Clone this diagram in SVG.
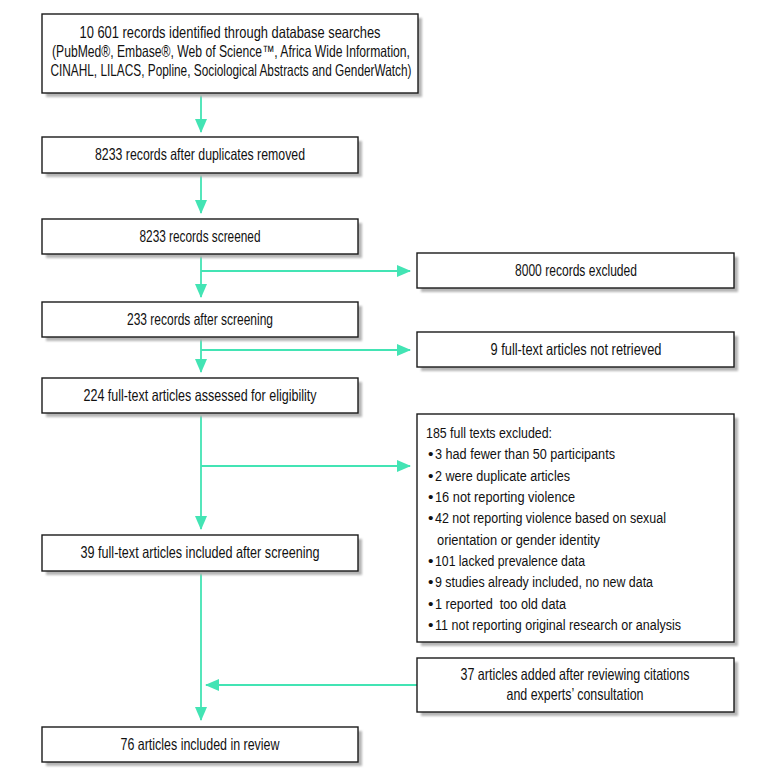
<svg xmlns="http://www.w3.org/2000/svg" width="771" height="778" viewBox="0 0 771 778">
<style>
.bx{fill:#fff;stroke:#1a1a1a;stroke-width:1.4}
.sh{fill:#b5b5b5}
text{font-family:"Liberation Sans Narrow","Liberation Sans",Arial,sans-serif;font-size:16.5px;fill:#111}
.c{text-anchor:middle}
.li{font-size:15.5px}
.pre{white-space:pre}
.cn{fill:none;stroke:#43e4b4;stroke-width:1.8}
</style>
<defs>
<filter id="bl" x="-5%" y="-5%" width="110%" height="120%"><feGaussianBlur stdDeviation="1"/></filter>
<marker id="ah" viewBox="0 0 14 12" refX="13" refY="6" markerWidth="14" markerHeight="12" markerUnits="userSpaceOnUse" orient="auto"><path d="M0,0 L14,6 L0,12 z" fill="#43e4b4"/></marker>
</defs>
<g id="connectors">
<path class="cn" d="M201,93 V132" marker-end="url(#ah)"/>
<path class="cn" d="M201,173 V213" marker-end="url(#ah)"/>
<path class="cn" d="M201,254 V297" marker-end="url(#ah)"/>
<path class="cn" d="M201,271 H410" marker-end="url(#ah)"/>
<path class="cn" d="M201,337 V372" marker-end="url(#ah)"/>
<path class="cn" d="M201,350 H410" marker-end="url(#ah)"/>
<path class="cn" d="M201,413 V529" marker-end="url(#ah)"/>
<path class="cn" d="M201,466 H410" marker-end="url(#ah)"/>
<path class="cn" d="M201,571 V720" marker-end="url(#ah)"/>
<path class="cn" d="M417,685 H206" marker-end="url(#ah)"/>
</g>
<g id="n1">
<rect class="sh" filter="url(#bl)" x="46" y="18" width="376" height="79"/>
<rect class="bx" x="42" y="14" width="376" height="79"/>
<text class="c" x="230" y="38" textLength="301" lengthAdjust="spacingAndGlyphs">10 601 records identified through database searches</text>
<text class="c" x="231" y="57" textLength="358" lengthAdjust="spacingAndGlyphs">(PubMed®, Embase®, Web of Science™, Africa Wide Information,</text>
<text class="c" x="231" y="76" textLength="361" lengthAdjust="spacingAndGlyphs">CINAHL, LILACS, Popline, Sociological Abstracts and GenderWatch)</text>
</g>
<g id="n2">
<rect class="sh" filter="url(#bl)" x="46" y="141" width="316" height="36"/>
<rect class="bx" x="42" y="137" width="316" height="36"/>
<text class="c" x="200" y="160" textLength="210" lengthAdjust="spacingAndGlyphs">8233 records after duplicates removed</text>
</g>
<g id="n3">
<rect class="sh" filter="url(#bl)" x="46" y="223" width="316" height="35"/>
<rect class="bx" x="42" y="219" width="316" height="35"/>
<text class="c" x="200" y="242" textLength="121" lengthAdjust="spacingAndGlyphs">8233 records screened</text>
</g>
<g id="n4">
<rect class="sh" filter="url(#bl)" x="421" y="257" width="317" height="35"/>
<rect class="bx" x="417" y="253" width="317" height="35"/>
<text class="c" x="576" y="276" textLength="122" lengthAdjust="spacingAndGlyphs">8000 records excluded</text>
</g>
<g id="n5">
<rect class="sh" filter="url(#bl)" x="46" y="306" width="316" height="35"/>
<rect class="bx" x="42" y="302" width="316" height="35"/>
<text class="c" x="200" y="325" textLength="146" lengthAdjust="spacingAndGlyphs">233 records after screening</text>
</g>
<g id="n6">
<rect class="sh" filter="url(#bl)" x="421" y="336" width="317" height="35"/>
<rect class="bx" x="417" y="332" width="317" height="35"/>
<text class="c" x="576" y="355" textLength="171" lengthAdjust="spacingAndGlyphs">9 full-text articles not retrieved</text>
</g>
<g id="n7">
<rect class="sh" filter="url(#bl)" x="46" y="382" width="316" height="35"/>
<rect class="bx" x="42" y="378" width="316" height="35"/>
<text class="c" x="200" y="401" textLength="233" lengthAdjust="spacingAndGlyphs">224 full-text articles assessed for eligibility</text>
</g>
<g id="n8">
<rect class="sh" filter="url(#bl)" x="421" y="418" width="317" height="228"/>
<rect class="bx" x="417" y="414" width="317" height="228"/>
<text class="li" x="426" y="438" textLength="126" lengthAdjust="spacingAndGlyphs">185 full texts excluded:</text>
<text class="li" x="428" y="459">•</text><text class="li" x="435" y="459" textLength="180" lengthAdjust="spacingAndGlyphs">3 had fewer than 50 participants</text>
<text class="li" x="428" y="481">•</text><text class="li" x="435" y="481" textLength="135" lengthAdjust="spacingAndGlyphs">2 were duplicate articles</text>
<text class="li" x="428" y="502">•</text><text class="li" x="435" y="502" textLength="140" lengthAdjust="spacingAndGlyphs">16 not reporting violence</text>
<text class="li" x="428" y="523">•</text><text class="li" x="435" y="523" textLength="231" lengthAdjust="spacingAndGlyphs">42 not reporting violence based on sexual</text>
<text class="li" x="437" y="545" textLength="163" lengthAdjust="spacingAndGlyphs">orientation or gender identity</text>
<text class="li" x="428" y="566">•</text><text class="li" x="435" y="566" textLength="150" lengthAdjust="spacingAndGlyphs">101 lacked prevalence data</text>
<text class="li" x="428" y="587">•</text><text class="li" x="435" y="587" textLength="218" lengthAdjust="spacingAndGlyphs">9 studies already included, no new data</text>
<text class="li" x="428" y="609">•</text><text class="li pre" x="435" y="609" textLength="131" lengthAdjust="spacingAndGlyphs">1 reported  too old data</text>
<text class="li" x="428" y="630">•</text><text class="li" x="435" y="630" textLength="246" lengthAdjust="spacingAndGlyphs">11 not reporting original research or analysis</text>
</g>
<g id="n9">
<rect class="sh" filter="url(#bl)" x="46" y="539" width="316" height="36"/>
<rect class="bx" x="42" y="535" width="316" height="36"/>
<text class="c" x="200" y="558" textLength="239" lengthAdjust="spacingAndGlyphs">39 full-text articles included after screening</text>
</g>
<g id="n10">
<rect class="sh" filter="url(#bl)" x="421" y="662" width="317" height="54"/>
<rect class="bx" x="417" y="658" width="317" height="54"/>
<text class="c" x="575" y="680" textLength="229" lengthAdjust="spacingAndGlyphs">37 articles added after reviewing citations</text>
<text class="c" x="575" y="700" textLength="137" lengthAdjust="spacingAndGlyphs">and experts’ consultation</text>
</g>
<g id="n11">
<rect class="sh" filter="url(#bl)" x="46" y="731" width="316" height="35"/>
<rect class="bx" x="42" y="727" width="316" height="35"/>
<text class="c" x="200" y="750" textLength="159" lengthAdjust="spacingAndGlyphs">76 articles included in review</text>
</g>
</svg>
